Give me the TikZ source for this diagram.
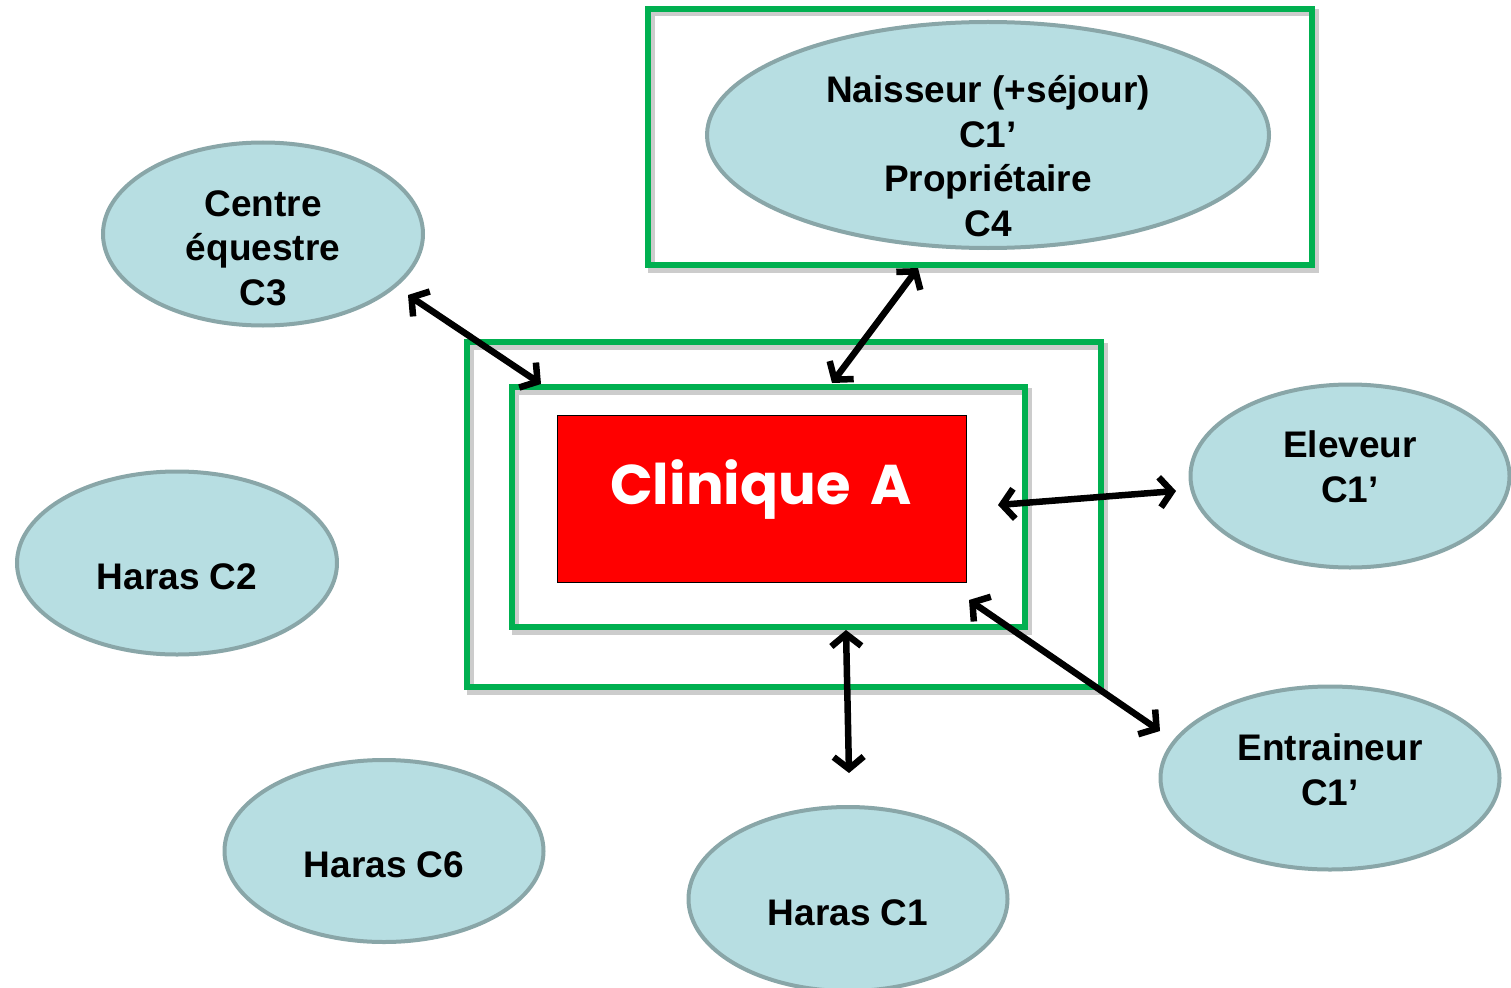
\documentclass[tikz,border=0pt]{standalone}
\usepackage{fontspec}
\setmainfont{Liberation Sans}
\newfontfamily\clinfont{Poppins}
\usepackage{tikz}
\usetikzlibrary{shapes.geometric,arrows.meta}

\definecolor{bubblefill}{HTML}{B7DEE2}
\definecolor{bubbleline}{HTML}{89A6A8}
\definecolor{boxgreen}{HTML}{00B050}

\begin{document}
\begin{tikzpicture}[x=1pt,y=-1pt,
  bubble/.style={ellipse, draw=bubbleline, fill=bubblefill, line width=4pt, inner sep=0pt},
  bubbletext/.style={align=center, font=\fontsize{37}{44.5}\selectfont\bfseries},
  frame/.style={draw=boxgreen, line width=5.5pt},
  frameshadow/.style={draw=black!20, line width=7pt},
  twoway/.style={draw=black, line width=6.5pt, {Straight Barb[length=12pt,width=30pt]}-{Straight Barb[length=12pt,width=30pt]}}]
\useasboundingbox (0,0) rectangle (1511,987);
%frame shadows
\draw [frameshadow] (651,13) rectangle (1315,269);
\draw [frameshadow] (470,346) rectangle (1104,691);
\draw [frameshadow] (515,391) rectangle (1028,631);
%frames
\draw [frame] (648,9) rectangle (1312,265);
\draw [frame] (467,342) rectangle (1101,687);
\draw [frame] (512,387) rectangle (1025,627);
%clinic
\node [draw=black, fill=red, line width=1pt, minimum width=409pt, minimum height=167pt] (clinique) at (761.5,498.5) {};
\node [text=white, font=\clinfont\fontsize{56}{66}\selectfont\bfseries] (cliniquetxt) at (761,490) {Clinique\hspace{8pt} A};
%ellipses
\node [bubble, minimum width=562pt, minimum height=226pt] (naisseur) at (988,135) {};
\node [bubbletext] (naisseurtxt) at (988,156) {Naisseur (+séjour)\\C1’\\Propriétaire\\C4};
\node [bubble, minimum width=320pt, minimum height=183pt] (centre) at (263,234) {};
\node [bubbletext] (centretxt) at (263,248) {Centre\\équestre\\C3};
\node [bubble, minimum width=320pt, minimum height=183pt] (harasctwo) at (177,563) {};
\node [bubbletext] (harasctwotxt) at (177,577) {Haras C2};
\node [bubble, minimum width=319pt, minimum height=182pt] (harascsix) at (384,851) {};
\node [bubbletext] (harascsixtxt) at (384,865) {Haras C6};
\node [bubble, minimum width=319pt, minimum height=184pt] (harascone) at (848,899) {};
\node [bubbletext] (harasconetxt) at (848,913) {Haras C1};
\node [bubble, minimum width=319pt, minimum height=183pt] (eleveur) at (1350,476) {};
\node [bubbletext] (eleveurtxt) at (1350,467) {Eleveur\\C1’};
\node [bubble, minimum width=339pt, minimum height=183pt] (entraineur) at (1330,778) {};
\node [bubbletext] (entraineurtxt) at (1330,770) {Entraineur\\C1’};
%arrow ends
\coordinate (centreend) at (408,295);
\coordinate (innertl) at (541,384);
\coordinate (naisseurend) at (918,268);
\coordinate (innertop) at (832,383);
\coordinate (clinright) at (998,505);
\coordinate (eleveurend) at (1176,491);
\coordinate (clinbr) at (969,600);
\coordinate (entraineurend) at (1160,731);
\coordinate (innerbottom) at (846,630);
\coordinate (harasconeend) at (849,773);
%arrows
\draw [twoway] (centreend) -- (innertl);
\draw [twoway] (naisseurend) -- (innertop);
\draw [twoway] (clinright) -- (eleveurend);
\draw [twoway] (clinbr) -- (entraineurend);
\draw [twoway] (innerbottom) -- (harasconeend);
\end{tikzpicture}
\end{document}
